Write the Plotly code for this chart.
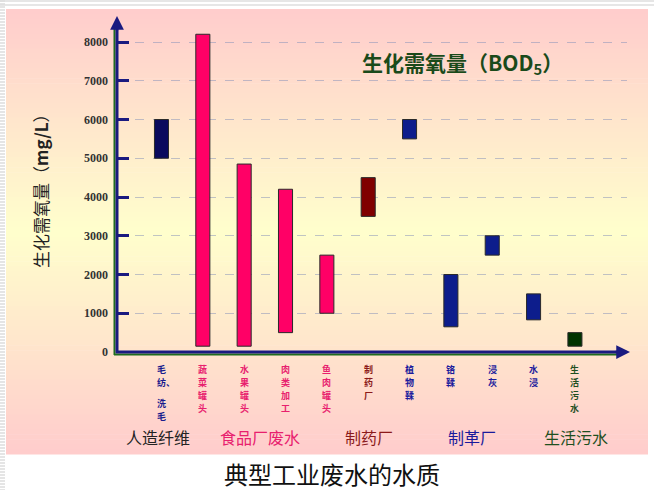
import plotly.graph_objects as go

# BOD5 ranges (mg/L) for typical industrial waste waters
categories = ["毛纺、洗毛", "蔬菜罐头", "水果罐头", "肉类加工", "鱼肉罐头",
              "制药厂", "植物鞣", "铬鞣", "浸灰", "水浸", "生活污水"]
bod_low = [5000, 150, 150, 500, 1000, 3500, 5500, 650, 2500, 830, 150]
bod_high = [6000, 8200, 4850, 4200, 2500, 4500, 6000, 2000, 3000, 1500, 500]
y_ticks = [0, 1000, 2000, 3000, 4000, 5000, 6000, 7000, 8000]

groups = ["人造纤维", "食品厂废水", "制药厂", "制革厂", "生活污水"]
group_of = [0, 1, 1, 1, 1, 2, 3, 3, 3, 3, 4]

# styling per group
bar_colors = ["#0a0a5e", "#ff0066", "#800000", "#0d1d8c", "#003300"]
label_colors = ["#1a1a8c", "#e8206e", "#8b1a1a", "#1a1a9c", "#1f4f1f"]
group_text_colors = ["#222222", "#e8206e", "#8b1a1a", "#1a1a9c", "#1f4f1f"]
group_text_px = [158, 260, 369, 472, 576]

W, H = 654, 490
L, R, T, B = 117, 627, 20, 352
Y_TOP = (B - T) / ((B - 42) / 8000)


def xp(px):
    return (px - L) / (R - L)


def yp(py):
    return (B - py) / (B - T)


NAVY = "#1a1a80"
GREEN = "#1f6b1f"

fig = go.Figure()
fig.add_trace(go.Bar(
    x=categories,
    y=[h - l for l, h in zip(bod_low, bod_high)],
    base=bod_low,
    width=0.34,
    marker=dict(color=[bar_colors[g] for g in group_of],
                line=dict(color="#2a2a2a", width=1)),
    hoverinfo="x+y",
))

shapes = []
# slide background: pink at the edges, yellow in the middle
top_px, bot_px = 9, 454
mid_px = (top_px + bot_px) / 2
n = 90
step = (bot_px - top_px) / n
for i in range(n):
    y0 = top_px + i * step
    yc = y0 + step / 2
    f = 1 - abs(yc - mid_px) / (mid_px - top_px)
    g = round(204 + 51 * f)
    shapes.append(dict(type="rect", xref="paper", yref="paper", layer="below",
                       x0=xp(6), x1=xp(648), y0=yp(y0), y1=yp(y0 + step + 0.6),
                       fillcolor=f"rgb(255,{g},204)", line=dict(width=0)))
# slide border stripes
for k in range(0, H, 3):
    shapes.append(dict(type="line", xref="paper", yref="paper", layer="below",
                       x0=xp(0), x1=xp(5), y0=yp(k + 1), y1=yp(k + 1),
                       line=dict(color="#dcdcdc", width=1.5)))
for k in (1, 5):
    shapes.append(dict(type="line", xref="paper", yref="paper", layer="below",
                       x0=xp(0), x1=xp(654), y0=yp(k), y1=yp(k),
                       line=dict(color="#dedede", width=1.5)))
# double-coloured axes
shapes += [
    dict(type="line", xref="paper", yref="paper", x0=xp(114.5), x1=xp(114.5),
         y0=yp(355), y1=yp(26), line=dict(color=GREEN, width=2)),
    dict(type="line", xref="paper", yref="paper", x0=xp(117), x1=xp(117),
         y0=yp(353), y1=yp(26), line=dict(color=NAVY, width=3)),
    dict(type="line", xref="paper", yref="paper", x0=xp(114), x1=xp(620),
         y0=yp(354.5), y1=yp(354.5), line=dict(color=GREEN, width=2)),
    dict(type="line", xref="paper", yref="paper", x0=xp(116), x1=xp(620),
         y0=yp(352), y1=yp(352), line=dict(color=NAVY, width=3)),
]


def text_at(px, py, text, size, color, **kw):
    return dict(x=xp(px), y=yp(py), xref="paper", yref="paper",
                xanchor="center", yanchor="middle", text=text, showarrow=False,
                font=dict(family="Noto Sans CJK SC", size=size, color=color), **kw)


annotations = [
    # axis arrowheads
    dict(x=xp(117), y=yp(16), xref="paper", yref="paper", text="", showarrow=True,
         ax=0, ay=16, arrowhead=2, arrowsize=1.1, arrowwidth=2.5, arrowcolor=NAVY),
    dict(x=xp(630), y=yp(352), xref="paper", yref="paper", text="", showarrow=True,
         ax=-16, ay=0, arrowhead=2, arrowsize=1.1, arrowwidth=2.5, arrowcolor=NAVY),
    # chart heading
    text_at(462, 63, "<b>生化需氧量（BOD<sub>5</sub>）</b>", 21, "#1a4a1a"),
    # y-axis title
    text_at(40, 187, "生化需氧量（<b>mg/L</b>）", 17, "#222222", textangle=-90),
    # slide title
    text_at(332, 473, "典型工业废水的水质", 24, "#111111"),
]

# vertical category labels under the axis, one character per line;
# an enumeration comma rides beside the preceding character
LABEL_SIZE = 9
CHAR_PITCH = 13
PUNCT_PITCH = 8
for i, (cat, g) in enumerate(zip(categories, group_of)):
    tokens = []
    for ch in cat:
        if ch == "、" and tokens:
            tokens[-1] = (tokens[-1][0] + ch, CHAR_PITCH + PUNCT_PITCH)
        else:
            tokens.append((ch, CHAR_PITCH))
    py = 369.5
    for tok, adv in tokens:
        annotations.append(dict(
            x=i, xref="x", y=yp(py), yref="paper",
            xanchor="center", yanchor="middle",
            xshift=(len(tok) - 1) * LABEL_SIZE / 2,
            text=f"<b>{tok}</b>", showarrow=False,
            font=dict(family="Noto Sans CJK SC", size=LABEL_SIZE,
                      color=label_colors[g])))
        py += adv

# group names
for name, px, c in zip(groups, group_text_px, group_text_colors):
    annotations.append(text_at(px, 437, name, 16, c))

fig.update_layout(
    width=W, height=H,
    margin=dict(l=L, r=W - R, t=T, b=H - B),
    paper_bgcolor="white",
    plot_bgcolor="rgba(0,0,0,0)",
    showlegend=False,
    shapes=shapes,
    annotations=annotations,
    xaxis=dict(type="category", range=[-1.076, 11.26], showticklabels=False,
               showgrid=False, zeroline=False, showline=False, ticks=""),
    yaxis=dict(range=[0, Y_TOP], tickvals=y_ticks, ticks="inside", ticklen=12,
               tickwidth=2.5, tickcolor=NAVY, ticklabelstandoff=8,
               tickfont=dict(family="Liberation Serif", size=12, color="#333333",
                             weight="bold"),
               showgrid=True, gridcolor="rgba(140,150,185,0.55)", griddash="dash",
               gridwidth=1, zeroline=False, showline=False),
)

fig.write_html("out.html")
